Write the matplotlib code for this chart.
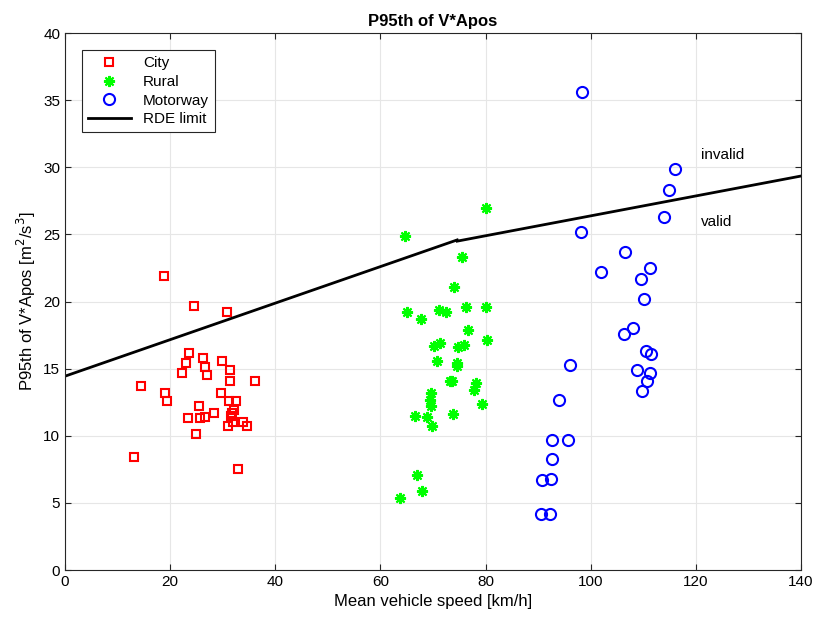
import matplotlib.pyplot as plt

plt.rcParams["font.family"] = ["Liberation Sans", "DejaVu Sans"]

# City
city_x = [18.8, 24.6, 30.8, 23.5, 26.3, 29.9, 23.0, 26.7, 31.3, 22.2, 27.1, 31.4,
          36.2, 14.5, 19.1, 29.7, 19.4, 31.2, 32.6, 25.4, 28.3, 31.8, 32.1, 31.6,
          23.4, 25.7, 26.6, 32.0, 31.0, 33.9, 34.7, 24.9, 13.1, 32.9]
city_y = [21.9, 19.7, 19.2, 16.2, 15.8, 15.6, 15.4, 15.1, 14.9, 14.7, 14.5, 14.1,
          14.1, 13.7, 13.2, 13.2, 12.6, 12.6, 12.6, 12.2, 11.7, 11.7, 11.9, 11.5,
          11.3, 11.3, 11.4, 11.0, 10.7, 11.0, 10.7, 10.1, 8.4, 7.5]

# Rural
rural_x = [80.0, 64.7, 75.6, 74.0, 65.1, 71.2, 72.5, 76.2, 80.1, 67.8, 76.7, 80.3,
           70.1, 71.4, 74.7, 75.9, 70.8, 74.6, 74.5, 73.2, 73.7, 78.1, 77.8, 69.7,
           69.4, 69.7, 79.3, 66.5, 68.8, 73.8, 69.9, 67.0, 67.9, 63.7]
rural_y = [27.0, 24.9, 23.3, 21.1, 19.2, 19.4, 19.2, 19.6, 19.6, 18.7, 17.9, 17.1,
           16.7, 16.9, 16.6, 16.8, 15.6, 15.4, 15.2, 14.1, 14.1, 13.9, 13.4, 13.2,
           12.7, 12.2, 12.4, 11.5, 11.4, 11.6, 10.7, 7.1, 5.9, 5.4]

# Motorway
motorway_x = [98.3, 116.0, 114.8, 113.9, 98.2, 106.6, 102.0, 111.2, 109.5, 110.1,
              108.1, 106.4, 96.1, 110.6, 111.5, 108.9, 111.2, 110.8, 109.8, 94.0,
              92.6, 95.7, 92.6, 90.8, 92.5, 90.5, 92.3]
motorway_y = [35.6, 29.9, 28.3, 26.3, 25.2, 23.7, 22.2, 22.5, 21.7, 20.2,
              18.0, 17.6, 15.3, 16.3, 16.1, 14.9, 14.7, 14.1, 13.3, 12.7,
              9.7, 9.7, 8.3, 6.7, 6.8, 4.2, 4.2]

# RDE limit (two segments)
rde_low_x = [0, 74.6]
rde_low_y = [14.44, 24.59]
rde_high_x = [74.6, 140]
rde_high_y = [24.50, 29.35]

fig = plt.figure(figsize=(8.19, 6.24), dpi=100)
ax = fig.add_axes([0.0794, 0.0865, 0.8986, 0.8605])

ax.plot(city_x, city_y, "s", color="red", mfc="none", mew=1.5, ms=6, label="City")
ax.plot(rural_x, rural_y, ls="none", marker=(8, 2, 0), color="#00ff00", mew=1.5,
        ms=8, label="Rural")
ax.plot(motorway_x, motorway_y, "o", color="blue", mfc="none", mew=1.5, ms=8,
        label="Motorway")
ax.plot(rde_low_x, rde_low_y, color="black", lw=2, label="RDE limit")
ax.plot(rde_high_x, rde_high_y, color="black", lw=2)

ax.text(121, 30.9, "invalid", fontsize=11, va="center", ha="left")
ax.text(121, 25.9, "valid", fontsize=11, va="center", ha="left")

ax.set_xlim(0, 140)
ax.set_ylim(0, 40)
ax.set_xticks(range(0, 141, 20))
ax.set_yticks(range(0, 41, 5))
ax.grid(True, color="#e6e6e6", lw=0.8)
ax.set_axisbelow(True)
ax.tick_params(direction="in", top=True, right=True, labelsize=11, color="#262626",
               length=4)
for s in ax.spines.values():
    s.set_color("#262626")
    s.set_linewidth(0.8)

ax.set_title("P95th of V*Apos", fontsize=12, fontweight="bold", pad=5)
ax.set_xlabel("Mean vehicle speed [km/h]", fontsize=12)
ax.set_ylabel("P95th of V*Apos [m$^2$/s$^3$]", fontsize=12)

leg = ax.legend(loc="upper left", bbox_to_anchor=(0.023, 0.968), fontsize=11,
                fancybox=False, edgecolor="#262626", framealpha=1,
                handlelength=2.8, borderpad=0.4, labelspacing=0.3,
                borderaxespad=0)
leg.get_frame().set_linewidth(0.8)

fig.savefig("out.png", dpi=100)
